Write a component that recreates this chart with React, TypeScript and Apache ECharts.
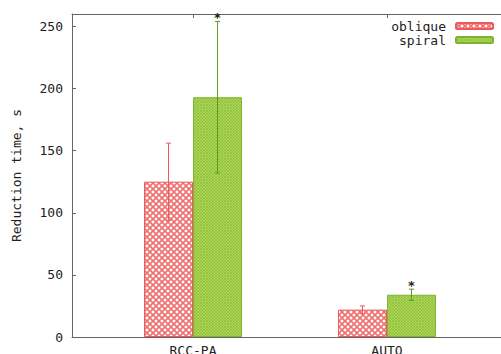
import React, { useEffect, useRef } from "react";
import * as echarts from "echarts";

const categories = ["RCC-PA", "AUTO"];
const obliqueMean = [125, 22];
const obliqueErr = [31, 3];
const spiralMean = [193, 34];
const spiralErr = [61, 4.5];
const spiralSignificant = [true, true];
const yTicks = [0, 50, 100, 150, 200, 250];

const FONT = "DejaVu Sans Mono";
const BAR_W = 49;

const svgUrl = (s: string) => "data:image/svg+xml;charset=utf-8," + encodeURIComponent(s);
const obliqueTile = svgUrl(
  "<svg xmlns='http://www.w3.org/2000/svg' width='6' height='6'><rect width='6' height='6' fill='#ffffff'/><path d='M-1 -1L7 7M7 -1L-1 7' stroke='#f07070' stroke-width='1.6'/></svg>"
);
const spiralTile = svgUrl(
  "<svg xmlns='http://www.w3.org/2000/svg' width='3' height='3'><rect width='3' height='3' fill='#acd655'/><path d='M-1 -1L4 4M4 -1L-1 4' stroke='#8cbd3c' stroke-width='0.7'/></svg>"
);

export default function App() {
  const ref = useRef<HTMLDivElement>(null);
  useEffect(() => {
    if (!ref.current) return;
    const chart = echarts.init(ref.current, null, { renderer: "svg" });
    const xIdx = categories.map((_, i) => i);
    const errRender = (side: number, color: string, stars: boolean[] | null) =>
      (params: any, api: any) => {
        const i = api.value(0);
        const m = api.value(1);
        const e = api.value(2);
        const top = api.coord([i, m + e]);
        const bot = api.coord([i, m - e]);
        const x = top[0] + side * BAR_W / 2;
        const children: any[] = [
          { type: "line", shape: { x1: x, y1: top[1], x2: x, y2: bot[1] }, style: { stroke: color, lineWidth: 1 } },
          { type: "line", shape: { x1: x - 2.5, y1: top[1], x2: x + 2.5, y2: top[1] }, style: { stroke: color, lineWidth: 1 } },
          { type: "line", shape: { x1: x - 2.5, y1: bot[1], x2: x + 2.5, y2: bot[1] }, style: { stroke: color, lineWidth: 1 } },
        ];
        if (stars && stars[params.dataIndex]) {
          children.push({
            type: "text",
            x: x,
            y: top[1] - 4,
            style: { text: "*", fill: "#222", font: `bold 13px ${FONT}`, textAlign: "center", textVerticalAlign: "middle" },
          });
        }
        return { type: "group", children };
      };
    chart.setOption({
      animation: false,
      backgroundColor: "#ffffff",
      grid: { left: 72, top: 14, right: 0, bottom: 17, containLabel: false, outerBoundsMode: "none" },
      legend: {
        orient: "vertical",
        right: 7,
        top: 19,
        padding: 0,
        align: "right",
        itemWidth: 37,
        itemHeight: 6,
        itemGap: 0,
        data: ["oblique", "spiral"],
        textStyle: { fontFamily: FONT, fontSize: 13, color: "#222", lineHeight: 14, padding: [0, 5, 0, 0] },
      },
      xAxis: [
        {
          type: "value",
          position: "bottom",
          min: -0.624,
          max: 1.588,
          axisLine: { show: true, onZero: false, lineStyle: { color: "#666", width: 1 } },
          axisTick: { show: true, inside: true, length: 4, customValues: xIdx, lineStyle: { color: "#666" } },
          axisLabel: {
            customValues: xIdx,
            formatter: (v: number) => categories[Math.round(v)] ?? "",
            fontFamily: FONT,
            fontSize: 13,
            color: "#222",
            margin: 7,
          },
          splitLine: { show: false },
        },
        {
          type: "value",
          position: "top",
          min: -0.624,
          max: 1.588,
          axisLine: { show: true, onZero: false, lineStyle: { color: "#666", width: 1 } },
          axisTick: { show: true, inside: true, length: 4, customValues: xIdx, lineStyle: { color: "#666" } },
          axisLabel: { show: false },
          splitLine: { show: false },
        },
      ],
      yAxis: {
        type: "value",
        min: 0,
        max: 260,
        interval: 50,
        name: "Reduction time, s",
        nameLocation: "middle",
        nameGap: 49,
        nameTextStyle: { fontFamily: FONT, fontSize: 13, color: "#222" },
        axisLine: { show: true, onZero: false, lineStyle: { color: "#666", width: 1 } },
        axisTick: { show: true, inside: true, length: 4, customValues: yTicks, lineStyle: { color: "#666" } },
        axisLabel: { fontFamily: FONT, fontSize: 13, color: "#222", margin: 9 },
        splitLine: { show: false },
      },
      series: [
        {
          name: "oblique",
          type: "bar",
          xAxisIndex: 0,
          barWidth: BAR_W,
          barGap: "0%",
          data: obliqueMean.map((v, i) => [i, v]),
          itemStyle: {
            color: { image: obliqueTile, repeat: "repeat", imageWidth: 6, imageHeight: 6 },
            borderColor: "#ea5a5a",
            borderWidth: 1,
          },
        },
        {
          name: "spiral",
          type: "bar",
          xAxisIndex: 0,
          barWidth: BAR_W,
          barGap: "0%",
          data: spiralMean.map((v, i) => [i, v]),
          itemStyle: {
            color: { image: spiralTile, repeat: "repeat", imageWidth: 3, imageHeight: 3 },
            borderColor: "#7fb232",
            borderWidth: 1,
          },
        },
        {
          type: "custom",
          xAxisIndex: 0,
          renderItem: errRender(-1, "#ec5a5a", null),
          data: obliqueMean.map((v, i) => [i, v, obliqueErr[i]]),
          z: 5,
        },
        {
          type: "custom",
          xAxisIndex: 0,
          renderItem: errRender(1, "#5f9a22", spiralSignificant),
          data: spiralMean.map((v, i) => [i, v, spiralErr[i]]),
          z: 5,
        },
      ],
    });
    return () => chart.dispose();
  }, []);
  return <div ref={ref} style={{ position: "absolute", left: 0, top: 0, width: 501, height: 354 }} />;
}
